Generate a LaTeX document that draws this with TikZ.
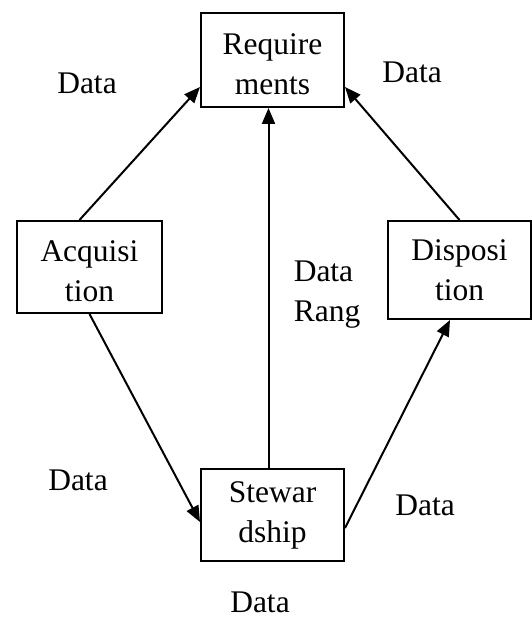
\documentclass[tikz,border=0pt]{standalone}
\usepackage{fontspec}
\setmainfont{Liberation Serif}
\usetikzlibrary{arrows.meta, positioning}
\tikzset{
  block/.style={rectangle, draw=black, line width=2pt, fill=white,
                minimum width=143pt, minimum height=94pt, align=center,
                inner sep=2pt, font=\fontsize{31.5}{40}\selectfont},
  arrow/.style={-{Triangle[length=16pt, width=13pt]}, line width=2pt},
  lbl/.style={font=\fontsize{31.5}{40}\selectfont, inner sep=0pt},
}
\begin{document}
\begin{tikzpicture}[x=1pt, y=1pt]
  \useasboundingbox (0,0) rectangle (532,619);

  \node[block] (req)  at (272.5,559) {\rule{0pt}{30pt}Require\\ments};
  \node[block, minimum width=145pt, minimum height=92pt] (acq) at (89.5,352) {\rule{0pt}{30pt}Acquisi\\tion};
  \node[block, minimum height=98pt] (disp) at (459.5,349) {Disposi\\tion};
  \node[block, minimum height=92pt] (stew) at (272.5,104) {Stewar\\dship};

  \draw[arrow] ([xshift=-10pt]acq.north) -- ([yshift=-27pt]req.west);
  \draw[arrow] (disp.north) -- ([yshift=-27pt]req.east);
  \draw[arrow] ([xshift=-4pt]stew.north) -- ([xshift=-4pt]req.south);
  \draw[arrow] (acq.south) -- ([yshift=-7pt]stew.west);
  \draw[arrow] ([yshift=-13pt]stew.east) -- ([xshift=-9.5pt]disp.south);

  % labels
  \node[lbl] (dA) at (87,536) {Data};
  \node[lbl] (dD) at (412,547) {Data};
  \node[lbl, align=left] (dR) at (327,324) {Data\\Rang};
  \node[lbl] (dAS) at (78,139) {Data};
  \node[lbl] (dSD) at (425,114) {Data};
  \node[lbl] (dS) at (260,17) {Data};
\end{tikzpicture}
\end{document}
